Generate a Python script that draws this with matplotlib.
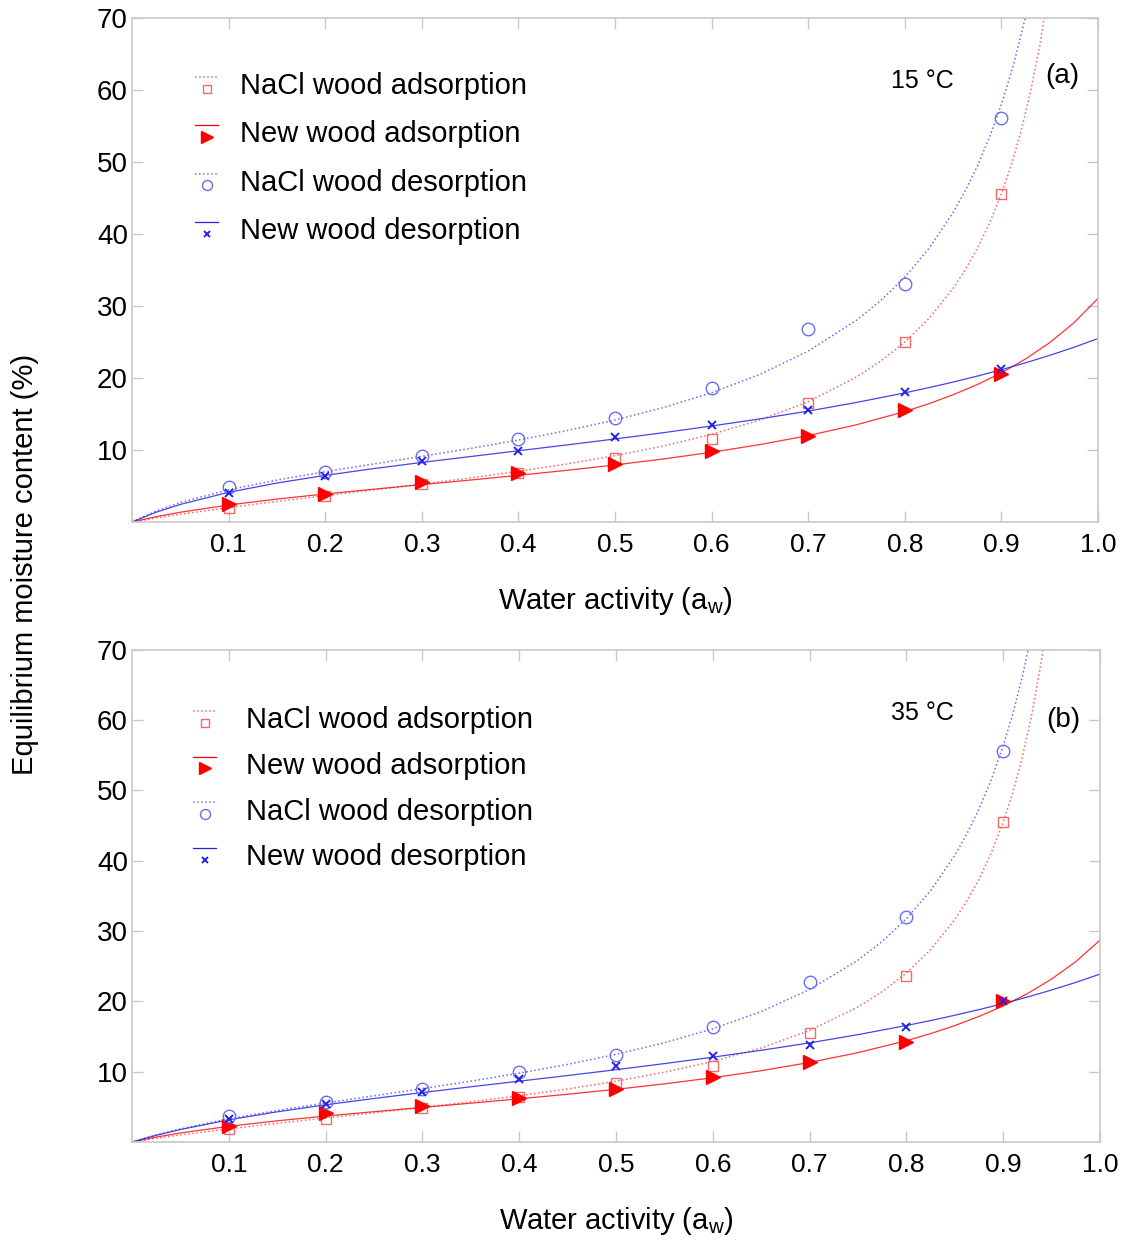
import matplotlib
matplotlib.use("Agg")
import matplotlib.pyplot as plt
from matplotlib.legend_handler import HandlerBase
from matplotlib.lines import Line2D

plt.rcParams["font.family"] = ["Liberation Sans", "DejaVu Sans"]
plt.rcParams["mathtext.fontset"] = "custom"
plt.rcParams["mathtext.rm"] = "Liberation Sans"

# measured points (water activity vs EMC %)
aw_points = [0.1, 0.2, 0.3, 0.4, 0.5, 0.6, 0.7, 0.8, 0.9]

a_nacl_ads = [1.9, 3.6, 5.3, 6.8, 8.9, 11.5, 16.5, 25.0, 45.6]
a_new_ads = [2.5, 3.9, 5.5, 6.8, 8.0, 9.9, 12.0, 15.5, 20.6]
a_nacl_des = [4.8, 7.0, 9.2, 11.5, 14.5, 18.6, 26.8, 33.1, 56.1]
a_new_des = [4.0, 6.4, 8.4, 9.9, 11.8, 13.4, 15.6, 18.0, 21.3]

b_nacl_ads = [1.8, 3.3, 4.8, 6.4, 8.4, 10.8, 15.5, 23.6, 45.5]
b_new_ads = [2.3, 4.1, 5.1, 6.3, 7.6, 9.3, 11.4, 14.2, 20.0]
b_nacl_des = [3.7, 5.7, 7.5, 9.9, 12.4, 16.3, 22.7, 32.0, 55.6]
b_new_des = [3.2, 5.4, 7.1, 8.9, 10.8, 12.2, 13.8, 16.4, 20.1]

# fitted curves
fit_aw_low = [0.0, 0.025, 0.05, 0.1, 0.15, 0.2, 0.25, 0.3, 0.35, 0.4, 0.45,
              0.5, 0.55, 0.6, 0.65, 0.7, 0.75]
fit_aw = fit_aw_low + [0.8, 0.825, 0.85, 0.875, 0.9, 0.925, 0.95, 0.975, 1.0]

a_fit_new_ads = [0, 0.74, 1.35, 2.36, 3.18, 3.89, 4.55, 5.19, 5.82, 6.48, 7.17,
                 7.92, 8.75, 9.68, 10.75, 12.0, 13.5, 15.34, 16.43, 17.67, 19.08,
                 20.72, 22.64, 24.91, 27.66, 31.06]
a_fit_new_des = [0, 1.36, 2.44, 4.12, 5.41, 6.47, 7.41, 8.27, 9.08, 9.89, 10.7,
                 11.53, 12.4, 13.33, 14.32, 15.4, 16.6, 17.93, 18.66, 19.43, 20.26,
                 21.15, 22.11, 23.14, 24.26, 25.48]
a_fit_nacl_des_aw = fit_aw_low + [0.775, 0.8, 0.825, 0.85, 0.8625, 0.875, 0.8875,
                                  0.9, 0.9125, 0.925, 0.9375]
a_fit_nacl_des = [0, 1.53, 2.71, 4.47, 5.82, 6.98, 8.05, 9.11, 10.21, 11.38, 12.69,
                  14.16, 15.88, 17.95, 20.5, 23.73, 28.02, 30.74, 34.0, 38.0, 42.99,
                  45.98, 49.4, 53.38, 58.0, 63.5, 70.2, 78.27]
a_fit_nacl_ads_aw = fit_aw_low + [0.775, 0.8, 0.825, 0.85, 0.8625, 0.875, 0.8875,
                                  0.9, 0.91, 0.92, 0.93, 0.94, 0.95]
a_fit_nacl_ads = [0, 0.56, 1.07, 2.0, 2.85, 3.65, 4.45, 5.26, 6.11, 7.03, 8.05,
                  9.21, 10.55, 12.17, 14.16, 16.7, 20.13, 22.33, 24.98, 28.27, 32.46,
                  35.02, 37.98, 41.45, 45.6, 49.51, 54.13, 59.67, 66.4, 74.8]

b_fit_new_ads = [0, 0.70, 1.28, 2.23, 3.01, 3.69, 4.31, 4.92, 5.52, 6.14, 6.79,
                 7.49, 8.27, 9.14, 10.14, 11.31, 12.71, 14.41, 15.42, 16.56, 17.86,
                 19.36, 21.11, 23.18, 25.66, 28.71]
b_fit_new_des = [0, 0.95, 1.77, 3.15, 4.29, 5.29, 6.19, 7.03, 7.85, 8.65, 9.45,
                 10.28, 11.15, 12.06, 13.04, 14.1, 15.27, 16.57, 17.27, 18.03, 18.83,
                 19.69, 20.62, 21.62, 22.70, 23.88]
b_fit_nacl_des_aw = fit_aw_low + [0.775, 0.8, 0.825, 0.85, 0.8625, 0.875, 0.8875,
                                  0.9, 0.91, 0.92, 0.93]
b_fit_nacl_des = [0, 1.01, 1.86, 3.29, 4.48, 5.55, 6.57, 7.59, 8.65, 9.78, 11.04,
                  12.46, 14.12, 16.1, 18.55, 21.69, 25.87, 28.54, 31.77, 35.75, 40.79,
                  43.85, 47.38, 51.5, 56.37, 60.96, 66.34, 72.73]
b_fit_nacl_ads_aw = fit_aw_low + [0.775, 0.8, 0.825, 0.85, 0.8625, 0.875, 0.8875,
                                  0.9, 0.91, 0.92, 0.93, 0.94, 0.95]
b_fit_nacl_ads = [0, 0.52, 1.0, 1.86, 2.66, 3.41, 4.15, 4.91, 5.71, 6.58, 7.54,
                  8.64, 9.92, 11.46, 13.38, 15.86, 19.21, 21.38, 24.04, 27.36, 31.65,
                  34.3, 37.39, 41.07, 45.51, 49.78, 54.91, 61.15, 68.96, 78.97]

x_ticks = [0.1, 0.2, 0.3, 0.4, 0.5, 0.6, 0.7, 0.8, 0.9, 1.0]
y_ticks = [10, 20, 30, 40, 50, 60, 70]
labels = ["NaCl wood adsorption", "New wood adsorption",
          "NaCl wood desorption", "New wood desorption"]

RED_LIGHT = "#f06a6a"
RED = "#ff0000"
BLUE_LIGHT = "#6c6cf2"
BLUE = "#2424e6"
SPINE = "#c8c8c8"


class StackedHandler(HandlerBase):
    """Legend key with the line drawn above the marker."""

    def create_artists(self, legend, orig_handle, xdescent, ydescent,
                       width, height, fontsize, trans):
        ln, mk = orig_handle
        ymid = height / 2 - ydescent
        line = Line2D([-xdescent, width - xdescent], [ymid + 5, ymid + 5],
                      color=ln.get_color(), linestyle=ln.get_linestyle(),
                      linewidth=ln.get_linewidth())
        mark = Line2D([width / 2 - xdescent], [ymid - 3.5], linestyle="none",
                      marker=mk.get_marker(), markersize=mk.get_markersize() * 0.8,
                      markerfacecolor=mk.get_markerfacecolor(),
                      markeredgecolor=mk.get_markeredgecolor(),
                      markeredgewidth=mk.get_markeredgewidth())
        line.set_transform(trans)
        mark.set_transform(trans)
        return [line, mark]


def draw_panel(ax, pts, fits, legend_anchor, textpad, spacing):
    nacl_ads, new_ads, nacl_des, new_des = pts
    (na_x, na_y), (ne_x, ne_y), (nd_x, nd_y), (wd_x, wd_y) = fits

    l1, = ax.plot(na_x, na_y, ":", color=RED_LIGHT, lw=1.1)
    l2, = ax.plot(ne_x, ne_y, "-", color=RED, lw=0.9, alpha=0.8)
    l3, = ax.plot(nd_x, nd_y, ":", color=BLUE_LIGHT, lw=1.1)
    l4, = ax.plot(wd_x, wd_y, "-", color=BLUE, lw=0.9, alpha=0.85)

    m1, = ax.plot(aw_points, nacl_ads, "s", ls="none", ms=7, mfc="none",
                  mec=RED_LIGHT, mew=1.0)
    m2, = ax.plot(aw_points, new_ads, ">", ls="none", ms=10, mfc=RED,
                  mec=RED, mew=1.0)
    m3, = ax.plot(aw_points, nacl_des, "o", ls="none", ms=9, mfc="none",
                  mec=BLUE_LIGHT, mew=1.0)
    m4, = ax.plot(aw_points, new_des, "x", ls="none", ms=6, mec=BLUE, mew=1.4)

    ax.set_xlim(0, 1.0)
    ax.set_ylim(0, 70)
    ax.set_xticks(x_ticks)
    ax.set_xticklabels([f"{t:.1f}" for t in x_ticks])
    ax.set_yticks(y_ticks)
    ax.tick_params(direction="in", length=8, width=1, color=SPINE,
                   top=True, right=True, labelsize=19, pad=8)
    ax.tick_params(axis="y", pad=3, labelsize=20)
    for sp in ax.spines.values():
        sp.set_color(SPINE)
        sp.set_linewidth(1.2)
    ax.set_xlabel(r"Water activity (a$_\mathregular{w}$)", fontsize=21, labelpad=20)

    ax.legend([(l1, m1), (l2, m2), (l3, m3), (l4, m4)], labels,
              handler_map={tuple: StackedHandler()},
              loc="upper left", bbox_to_anchor=legend_anchor, borderaxespad=0,
              borderpad=0, frameon=False, fontsize=21, handlelength=0.8,
              handletextpad=textpad, labelspacing=spacing)


def main():
    fig = plt.figure(figsize=(11.21, 12.41), dpi=100)
    ax_a = fig.add_axes([0.1178, 0.5794, 0.8617, 0.4061])
    ax_b = fig.add_axes([0.1178, 0.0798, 0.8635, 0.3965])

    draw_panel(ax_a, (a_nacl_ads, a_new_ads, a_nacl_des, a_new_des),
               ((a_fit_nacl_ads_aw, a_fit_nacl_ads), (fit_aw, a_fit_new_ads),
                (a_fit_nacl_des_aw, a_fit_nacl_des), (fit_aw, a_fit_new_des)),
               (0.065, 0.893), 0.75, 0.70)
    draw_panel(ax_b, (b_nacl_ads, b_new_ads, b_nacl_des, b_new_des),
               ((b_fit_nacl_ads_aw, b_fit_nacl_ads), (fit_aw, b_fit_new_ads),
                (b_fit_nacl_des_aw, b_fit_nacl_des), (fit_aw, b_fit_new_des)),
               (0.063, 0.886), 1.0, 0.61)

    ax_a.text(0.818, 0.875, "15 °C", transform=ax_a.transAxes, fontsize=18,
              ha="center", va="center")
    ax_a.text(0.963, 0.885, "(a)", transform=ax_a.transAxes, fontsize=20,
              ha="center", va="center")
    ax_b.text(0.817, 0.872, "35 °C", transform=ax_b.transAxes, fontsize=18,
              ha="center", va="center")
    ax_b.text(0.962, 0.857, "(b)", transform=ax_b.transAxes, fontsize=20,
              ha="center", va="center")

    fig.text(0.022, 0.545, "Equilibrium moisture content (%)", rotation=90,
             fontsize=21, ha="center", va="center")

    fig.savefig("out.png", dpi=100)


if __name__ == "__main__":
    main()
